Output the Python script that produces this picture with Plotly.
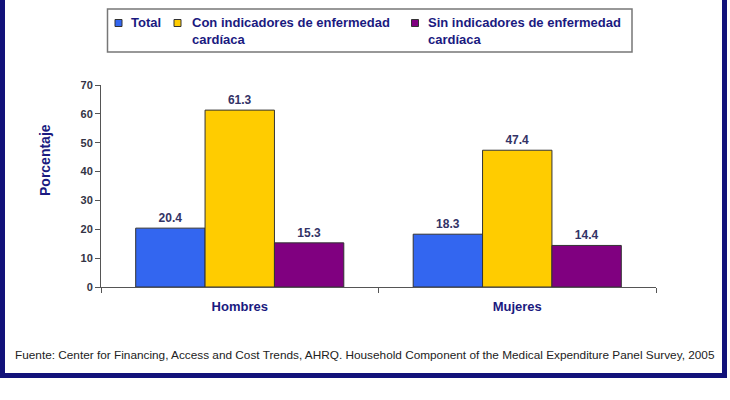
import plotly.graph_objects as go

# data
categories = ["Hombres", "Mujeres"]
series_names = [
    "Total",
    "Con indicadores de enfermedad<br>cardíaca",
    "Sin indicadores de enfermedad<br>cardíaca",
]
total = [20.4, 18.3]
con_indicadores = [61.3, 47.4]
sin_indicadores = [15.3, 14.4]
y_ticks = [0, 10, 20, 30, 40, 50, 60, 70]

colors = ["#3366F0", "#FFCC00", "#800080"]
navy = "#1A1A80"
font_family = "Liberation Sans, Arial, sans-serif"

W, H = 730, 400
# plot area in page pixels
L, R, T, B = 101, 656, 85, 287


def px_x(px):
    return (px - L) / (R - L)


def px_y(py):
    return (B - py) / (B - T)


fig = go.Figure()
for name, vals, col in zip(series_names, [total, con_indicadores, sin_indicadores], colors):
    fig.add_trace(
        go.Bar(
            x=categories,
            y=vals,
            name=name,
            marker=dict(color=col, line=dict(color="#333333", width=1)),
            texttemplate="%{y:.1f}",
            textposition="outside",
            textfont=dict(family=font_family, size=12, color="#333366", weight="bold"),
            cliponaxis=False,
        )
    )

frame = "#12127A"
shapes = [
    # outer navy frame (top edge is cut off in the original)
    dict(type="rect", xref="paper", yref="paper",
         x0=px_x(0), x1=px_x(5), y0=px_y(378), y1=px_y(0),
         line=dict(width=0), fillcolor=frame),
    dict(type="rect", xref="paper", yref="paper",
         x0=px_x(722), x1=px_x(727), y0=px_y(378), y1=px_y(0),
         line=dict(width=0), fillcolor=frame),
    dict(type="rect", xref="paper", yref="paper",
         x0=px_x(0), x1=px_x(727), y0=px_y(378), y1=px_y(373),
         line=dict(width=0), fillcolor=frame),
    # legend box
    dict(type="rect", xref="paper", yref="paper",
         x0=px_x(107.5), x1=px_x(632), y0=px_y(52), y1=px_y(9),
         line=dict(color="#777777", width=1.5), fillcolor="white"),
]
annotations = []

# manual legend entries
legend_sq_x = [118.5, 177.5, 415]
legend_txt_x = [129, 190, 426]
for name, col, sx, tx in zip(series_names, colors, legend_sq_x, legend_txt_x):
    shapes.append(dict(type="rect", xref="paper", yref="paper",
                       x0=px_x(sx - 3.5), x1=px_x(sx + 3.5),
                       y0=px_y(26.5), y1=px_y(19.5),
                       fillcolor=col, line=dict(color="#333333", width=1)))
    annotations.append(dict(xref="paper", yref="paper", x=px_x(tx), y=px_y(13.5),
                            xanchor="left", yanchor="top", align="left",
                            text=name, showarrow=False,
                            font=dict(family=font_family, size=13, color=navy, weight="bold")))

annotations.append(dict(
    xref="paper", yref="paper", x=px_x(45), y=px_y(160),
    xanchor="center", yanchor="middle", textangle=-90, showarrow=False,
    text="Porcentaje",
    font=dict(family=font_family, size=14, color=navy, weight="bold"),
))

annotations.append(dict(
    xref="paper", yref="paper", x=px_x(365), y=px_y(355),
    xanchor="center", yanchor="middle", showarrow=False,
    text="Fuente: Center for Financing, Access and Cost Trends, AHRQ. "
         "Household Component of the Medical Expenditure Panel Survey, 2005",
    font=dict(family=font_family, size=11.8, color="#222222"),
))

fig.update_layout(
    width=W,
    height=H,
    margin=dict(l=L, r=W - R, t=T, b=H - B),
    paper_bgcolor="white",
    plot_bgcolor="white",
    barmode="group",
    bargap=0.25,
    bargroupgap=0,
    showlegend=False,
    shapes=shapes,
    annotations=annotations,
    xaxis=dict(
        showline=True, linecolor="#555555", linewidth=1,
        ticks="outside", tickson="boundaries", ticklen=5, tickcolor="#555555",
        ticklabelstandoff=7,
        tickfont=dict(family=font_family, size=13, color=navy, weight="bold"),
        showgrid=False,
    ),
    yaxis=dict(
        range=[0, 70],
        tickvals=y_ticks,
        showline=True, linecolor="#555555", linewidth=1,
        ticks="outside", ticklen=5, tickcolor="#555555",
        tickfont=dict(family=font_family, size=11, color="#333344", weight="bold"),
        showgrid=False, zeroline=False,
    ),
)

# drop the default 8px body margin so the figure sits at the window corner
fig.write_html(
    "out.html",
    config={"displayModeBar": False},
    post_script="document.body.style.margin='0';",
)
